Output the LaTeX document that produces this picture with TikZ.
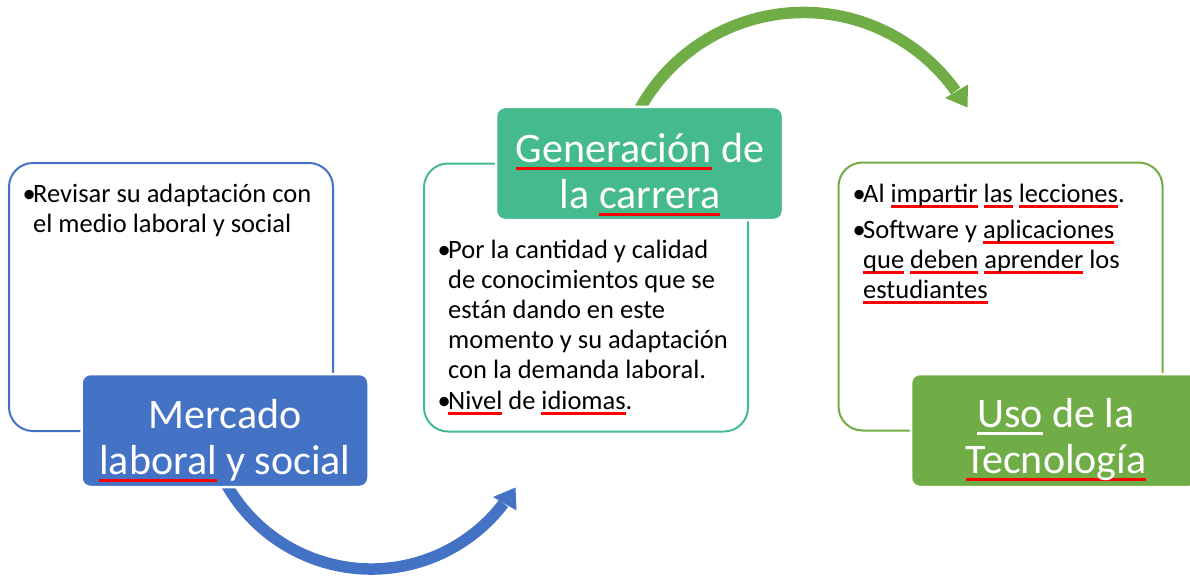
\documentclass[tikz,border=0pt]{standalone}
\usepackage{fontspec}
\setmainfont{Carlito}
\definecolor{bluec}{HTML}{4472C4}
\definecolor{tealc}{HTML}{45BA8D}
\definecolor{greenc}{HTML}{70AD47}
\definecolor{ulred}{HTML}{FF0000}
\newcommand\ulw[2][ulred]{\setbox0\hbox{#2}\leavevmode\rlap{\color{#1}\vrule width\wd0 height -0.12em depth \dimexpr0.12em+2.5pt\relax}\box0\relax}
\newcommand\bul{\llap{•\kern-2.5pt}}
\tikzset{
  panel/.style={draw=#1, line width=2pt, rounded corners=24pt, minimum width=324pt, minimum height=268pt, inner sep=0pt},
  titlebox/.style={fill=#1, draw=white, line width=2.5pt, rounded corners=9pt, minimum width=287pt, minimum height=113pt, inner sep=0pt},
  body/.style={anchor=base west, inner sep=0pt, text=black, font=\fontsize{26.5}{30}\selectfont},
  title/.style={anchor=base, inner sep=0pt, text=white, font=\fontsize{42}{46}\selectfont},
  arcline/.style={draw=#1, line width=11.5pt},
  headtip/.style={fill=#1, draw=none}
}
\begin{document}
\begin{tikzpicture}[x=1pt,y=-1pt]
\useasboundingbox (0,0) rectangle (1190,575);
% outline panels
\node[panel=bluec] (p1) at (171,297) {};
\node[panel=tealc] (p2) at (586,297.5) {};
\node[panel=greenc] (p3) at (1000.5,296.5) {};
% arcs
\coordinate (gc) at (803.4,199.5);
\coordinate (bc) at (371.3,402.7);
\draw[arcline=greenc] ([shift={(-152:187)}]gc) arc[start angle=-152, end angle=-35.5, radius=187];
\fill[headtip=greenc] (945,98) -- (968,84.5) -- (967.5,107.5) -- cycle;
\draw[arcline=bluec] ([shift={(155:166.3)}]bc) arc[start angle=155, end angle=37.3, radius=166.3];
\fill[headtip=bluec] (493,497) -- (516.5,510.5) -- (515.5,487.5) -- cycle;
% title boxes
\node[titlebox=bluec] (b1) at (225,430.5) {};
\node[titlebox=tealc] (b2) at (639.5,163.5) {};
\node[titlebox=greenc] (b3) at (1054.5,430.5) {};
% titles
\node[title] (t1) at (225,428) {\begin{tabular}[t]{@{}c@{}}Mercado\\\ulw{laboral} y social\end{tabular}};
\node[title] (t2) at (640,162) {\begin{tabular}[t]{@{}c@{}}\ulw{Generación} de\\la \ulw{carrera}\end{tabular}};
\node[title] (t3) at (1056,427) {\begin{tabular}[t]{@{}c@{}}\ulw[white]{Uso} de la\\\ulw{Tecnología}\end{tabular}};
% bullet texts
\node[body] (x1) at (33,202) {\begin{tabular}[t]{@{}l@{}}\bul Revisar su adaptación con\\el medio laboral y social\end{tabular}};
\node[body] (x2) at (448,258) {\begin{tabular}[t]{@{}l@{}}\bul Por la cantidad y calidad\\de conocimientos que se\\están dando en este\\momento y su adaptación\\con la demanda laboral.\end{tabular}};
\node[body] (x3) at (448,409) {\bul\ulw{Nivel} de \ulw{idiomas}.};
\node[body] (x4) at (863,202) {\bul Al \ulw{impartir} \ulw{las} \ulw{lecciones}.};
\node[body] (x5) at (863,238) {\begin{tabular}[t]{@{}l@{}}\bul Software y \ulw{aplicaciones}\\\ulw{que} \ulw{deben} \ulw{aprender} los\\\ulw{estudiantes}\end{tabular}};
\end{tikzpicture}
\end{document}
